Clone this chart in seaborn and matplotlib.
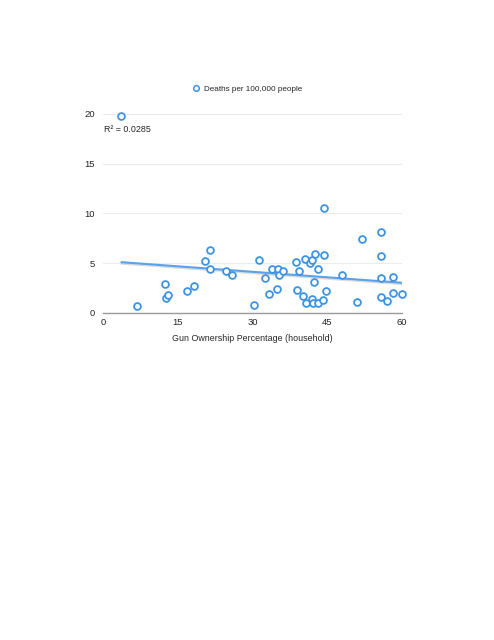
import matplotlib
matplotlib.use("Agg")
import matplotlib.pyplot as plt
import matplotlib.patheffects as pe
import seaborn as sns
import pandas as pd

gun_pct = [3.7, 6.9, 12.4, 12.7, 13.0, 16.9, 18.2, 20.4, 21.5, 21.5,
           24.7, 25.8, 30.2, 31.3, 32.6, 33.4, 34.0, 35.0, 35.1, 35.4,
           36.2, 38.7, 38.9, 39.4, 40.1, 40.6, 40.8, 41.5, 42.0, 42.0,
           42.1, 42.4, 42.5, 43.1, 43.2, 44.2, 44.3, 44.4, 44.7, 48.0,
           51.0, 52.0, 55.7, 55.7, 55.7, 55.7, 56.9, 58.1, 58.1, 60.0]
deaths = [19.8, 0.67, 2.9, 1.5, 1.8, 2.2, 2.7, 5.2, 6.3, 4.4,
          4.2, 3.8, 0.77, 5.3, 3.5, 1.9, 4.4, 2.4, 4.4, 3.8,
          4.2, 5.1, 2.3, 4.2, 1.7, 5.4, 0.94, 5.0, 5.3, 1.4,
          1.0, 3.1, 5.9, 4.4, 1.0, 1.24, 5.8, 10.5, 2.2, 3.8,
          1.07, 7.4, 8.1, 5.7, 3.5, 1.6, 1.2, 2.0, 3.6, 1.9]
x_ticks = [0, 15, 30, 45, 60]
y_ticks = [0, 5, 10, 15, 20]
series_label = "Deaths per 100,000 people"
x_label = "Gun Ownership Percentage (household)"
r2_text = "R\u00b2 = 0.0285"

df = pd.DataFrame({"gun": gun_pct, "deaths": deaths})

sns.set_theme(style="white")
plt.rcParams["font.family"] = ["Liberation Sans", "DejaVu Sans"]

blue = "#3f93e3"
fig = plt.figure(figsize=(4.94, 6.40), dpi=100)
ax = fig.add_axes([0.2085, 0.5114, 0.6053, 0.3105])

sns.regplot(data=df, x="gun", y="deaths", ax=ax, ci=None, scatter=False,
            truncate=True,
            line_kws=dict(color="#5aa3ea", lw=1.5, zorder=2,
                          path_effects=[pe.SimpleLineShadow(offset=(0, -1.0), shadow_color="#999999", alpha=0.35),
                                        pe.Normal()]))
sns.scatterplot(data=df, x="gun", y="deaths", ax=ax, s=24, facecolor="white",
                edgecolor=blue, linewidth=1.3, zorder=3, clip_on=False,
                label=series_label, legend=False)

ax.set_xlim(0, 60)
ax.set_ylim(0, 20)
ax.set_xticks(x_ticks)
ax.set_yticks(y_ticks)
ax.set_xticklabels([str(t) for t in x_ticks], fontsize=6.8)
ax.set_yticklabels([str(t) for t in y_ticks], fontsize=6.8)
ax.tick_params(axis="x", length=0, pad=3.5)
ax.tick_params(axis="y", length=0, pad=6)
ax.yaxis.grid(True, color="#ececec", lw=0.8)
ax.xaxis.grid(False)
for s in ["left", "right", "top"]:
    ax.spines[s].set_visible(False)
ax.spines["bottom"].set_color("#9a9a9a")
ax.spines["bottom"].set_linewidth(1.0)
ax.set_xlabel(x_label, fontsize=6.4, labelpad=5)
ax.set_ylabel("")

ax.text(0.3, 18.4, r2_text, fontsize=6.4, va="center", ha="left")

handle = plt.Line2D([], [], marker="o", ls="", markersize=4, markerfacecolor="white",
                    markeredgecolor=blue, markeredgewidth=1.1)
fig.legend([handle], [series_label], loc="center", bbox_to_anchor=(0.5, 0.861),
           frameon=False, fontsize=5.9, handletextpad=0.4, handlelength=1.2)

fig.savefig("out.png", dpi=100, facecolor="white")
